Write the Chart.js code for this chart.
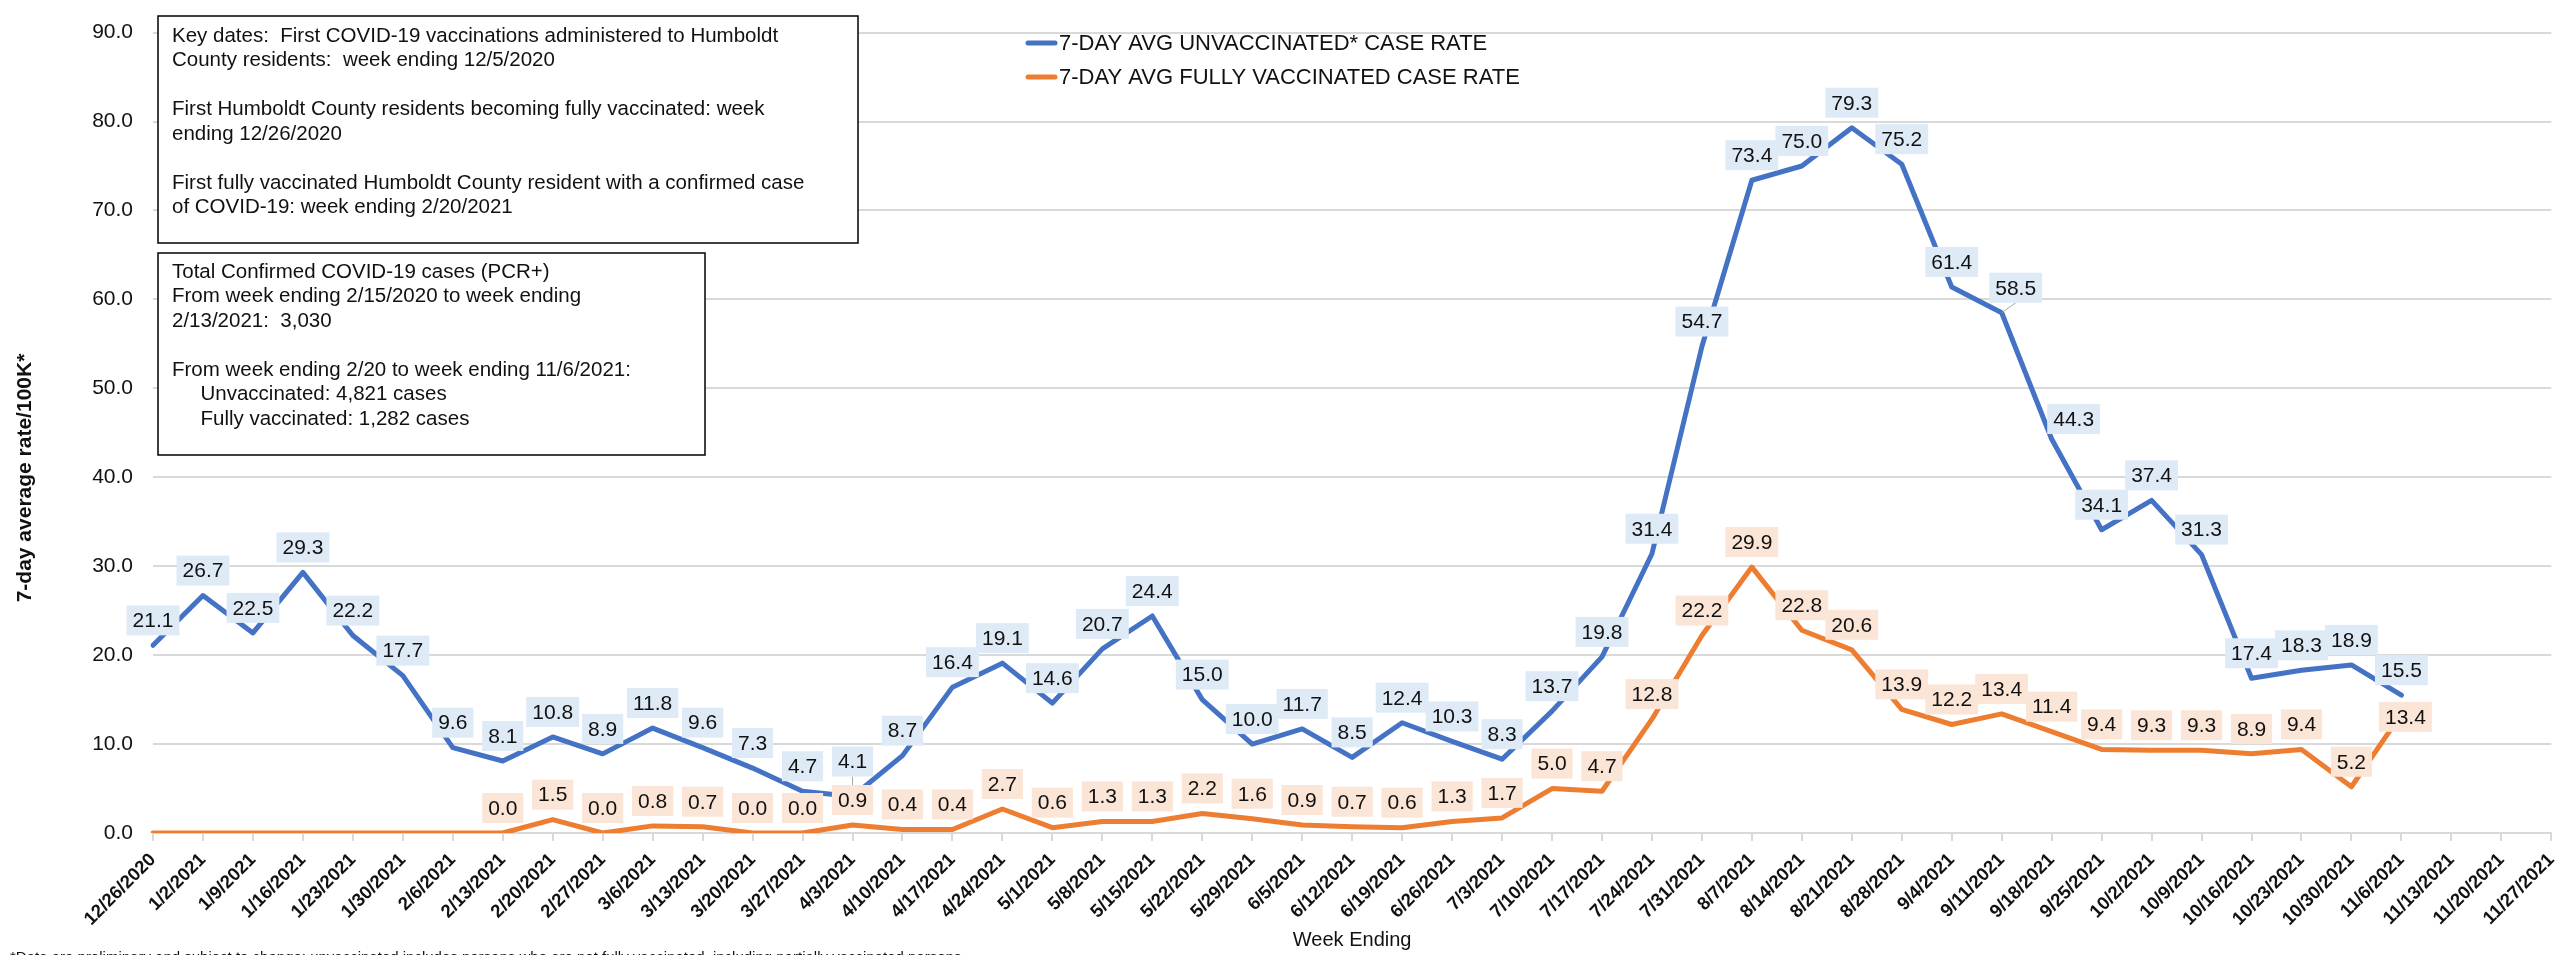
<!DOCTYPE html>
<html>
<head>
<meta charset="utf-8">
<script src="https://cdn.jsdelivr.net/npm/chart.js@4.4.1/dist/chart.umd.min.js"></script>
<style>
  body { margin: 0; background: #fff; }
  #wrap { width: 2575px; height: 955px; position: relative; }
</style>
</head>
<body>
<div id="wrap"><canvas id="myChart"></canvas></div>
<script>
const weeks = [
  '12/26/2020', '1/2/2021', '1/9/2021', '1/16/2021', '1/23/2021', '1/30/2021', '2/6/2021',
  '2/13/2021', '2/20/2021', '2/27/2021', '3/6/2021', '3/13/2021', '3/20/2021', '3/27/2021',
  '4/3/2021', '4/10/2021', '4/17/2021', '4/24/2021', '5/1/2021', '5/8/2021', '5/15/2021',
  '5/22/2021', '5/29/2021', '6/5/2021', '6/12/2021', '6/19/2021', '6/26/2021', '7/3/2021',
  '7/10/2021', '7/17/2021', '7/24/2021', '7/31/2021', '8/7/2021', '8/14/2021', '8/21/2021',
  '8/28/2021', '9/4/2021', '9/11/2021', '9/18/2021', '9/25/2021', '10/2/2021', '10/9/2021',
  '10/16/2021', '10/23/2021', '10/30/2021', '11/6/2021', '11/13/2021', '11/20/2021', '11/27/2021'
];

const unvaxRate = [
  21.1, 26.7, 22.5, 29.3, 22.2, 17.7, 9.6,
  8.1, 10.8, 8.9, 11.8, 9.6, 7.3, 4.7,
  4.1, 8.7, 16.4, 19.1, 14.6, 20.7, 24.4,
  15.0, 10.0, 11.7, 8.5, 12.4, 10.3, 8.3,
  13.7, 19.8, 31.4, 54.7, 73.4, 75.0, 79.3,
  75.2, 61.4, 58.5, 44.3, 34.1, 37.4, 31.3,
  17.4, 18.3, 18.9, 15.5, null, null, null
];

const vaxRate = [
  0, 0, 0, 0, 0, 0, 0,
  0.0, 1.5, 0.0, 0.8, 0.7, 0.0, 0.0,
  0.9, 0.4, 0.4, 2.7, 0.6, 1.3, 1.3,
  2.2, 1.6, 0.9, 0.7, 0.6, 1.3, 1.7,
  5.0, 4.7, 12.8, 22.2, 29.9, 22.8, 20.6,
  13.9, 12.2, 13.4, 11.4, 9.4, 9.3, 9.3,
  8.9, 9.4, 5.2, 13.4, null, null, null
];

// first week that carries a value label on the vaccinated line
const vaxLabelFrom = '2/13/2021';

const seriesNames = ['7-DAY AVG UNVACCINATED* CASE RATE', '7-DAY AVG FULLY VACCINATED CASE RATE'];

const keyDatesText = [
  'Key dates:  First COVID-19 vaccinations administered to Humboldt',
  'County residents:  week ending 12/5/2020',
  '',
  'First Humboldt County residents becoming fully vaccinated: week',
  'ending 12/26/2020',
  '',
  'First fully vaccinated Humboldt County resident with a confirmed case',
  'of COVID-19: week ending 2/20/2021'
];

const totalsText = [
  'Total Confirmed COVID-19 cases (PCR+)',
  'From week ending 2/15/2020 to week ending',
  '2/13/2021:  3,030',
  '',
  'From week ending 2/20 to week ending 11/6/2021:',
  '     Unvaccinated: 4,821 cases',
  '     Fully vaccinated: 1,282 cases'
];

const footnote = '*Data are preliminary and subject to change; unvaccinated includes persons who are not fully vaccinated, including partially vaccinated persons.';

const FONT = '"Liberation Sans", Arial, sans-serif';
const BLUE = '#4472C4';
const ORANGE = '#ED7D31';

// manual label moves, like the hand-placed labels in the original
const labelNudges = {
  0: { '4/3/2021': [0, -10, true], '9/11/2021': [14, 0, true], '9/18/2021': [22, 5, false] },
  1: { '11/6/2021': [4, 28, false] }
};

const overlay = {
  id: 'overlay',
  afterDatasetsDraw(chart) {
    const ctx = chart.ctx;
    ctx.save();
    ctx.font = '21px ' + FONT;
    ctx.textAlign = 'center';
    ctx.textBaseline = 'middle';
    const fills = ['#DEEBF7', '#FBE5D6'];
    const startIdx = [0, weeks.indexOf(vaxLabelFrom)];
    chart.data.datasets.forEach((ds, di) => {
      const meta = chart.getDatasetMeta(di);
      ds.data.forEach((v, i) => {
        if (v === null || i < startIdx[di]) return;
        const pt = meta.data[i];
        const txt = v.toFixed(1);
        const w = ctx.measureText(txt).width + 12;
        const h = 30;
        const nudge = (labelNudges[di] || {})[weeks[i]] || [0, 0, false];
        const cx = pt.x + nudge[0];
        const cy = pt.y - 25 + nudge[1];
        if (nudge[2]) {
          ctx.strokeStyle = '#a6a6a6';
          ctx.lineWidth = 1;
          ctx.beginPath();
          ctx.moveTo(pt.x, pt.y);
          ctx.lineTo(cx, cy + h / 2);
          ctx.stroke();
        }
        ctx.fillStyle = fills[di];
        ctx.fillRect(cx - w / 2, cy - h / 2, w, h);
        ctx.fillStyle = '#111';
        ctx.fillText(txt, cx, cy + 1);
      });
    });
    ctx.restore();
  },
  afterDraw(chart) {
    const ctx = chart.ctx;
    ctx.save();
    ctx.font = '20.5px ' + FONT;
    ctx.textBaseline = 'middle';
    ctx.textAlign = 'left';

    // text boxes
    const boxes = [
      { x: 158, y: 16, w: 700, h: 227, lines: keyDatesText, y0: 36 },
      { x: 158, y: 253, w: 547, h: 202, lines: totalsText, y0: 272 }
    ];
    boxes.forEach(b => {
      ctx.fillStyle = '#fff';
      ctx.fillRect(b.x, b.y, b.w, b.h);
      ctx.strokeStyle = '#000';
      ctx.lineWidth = 1.5;
      ctx.strokeRect(b.x, b.y, b.w, b.h);
      ctx.fillStyle = '#111';
      b.lines.forEach((ln, k) => ctx.fillText(ln, 172, b.y0 + k * 24.5));
    });

    // legend
    ctx.font = '22px ' + FONT;
    [BLUE, ORANGE].forEach((c, k) => {
      const y = 43 + k * 34;
      ctx.strokeStyle = c;
      ctx.lineWidth = 5;
      ctx.lineCap = 'round';
      ctx.beginPath();
      ctx.moveTo(1028, y);
      ctx.lineTo(1055, y);
      ctx.stroke();
      ctx.fillStyle = '#111';
      ctx.fillText(seriesNames[k], 1059, y + 1);
    });

    // y axis title
    ctx.save();
    ctx.translate(25, 478);
    ctx.rotate(-Math.PI / 2);
    ctx.textAlign = 'center';
    ctx.font = 'bold 21px ' + FONT;
    ctx.fillText('7-day average rate/100K*', 0, 0);
    ctx.restore();

    // footnote, cut by the bottom edge as in the original
    ctx.font = '15px ' + FONT;
    ctx.textBaseline = 'alphabetic';
    ctx.fillText(footnote, 10, 962);
    ctx.restore();
  }
};

const chart = document.getElementById('myChart');
new Chart(chart, {
  type: 'line',
  data: {
    labels: weeks,
    datasets: [{
      label: seriesNames[0],
      data: unvaxRate,
      borderColor: BLUE,
      backgroundColor: BLUE,
      borderWidth: 5,
      pointRadius: 0,
      tension: 0,
      fill: false,
      borderJoinStyle: 'round',
      borderCapStyle: 'round'
    }, {
      label: seriesNames[1],
      data: vaxRate,
      borderColor: ORANGE,
      backgroundColor: ORANGE,
      borderWidth: 5,
      pointRadius: 0,
      tension: 0,
      fill: false,
      borderJoinStyle: 'round',
      borderCapStyle: 'round'
    }]
  },
  options: {
    responsive: true,
    maintainAspectRatio: false,
    animation: false,
    layout: { padding: { left: 0, right: 23, top: 15, bottom: 0 } },
    plugins: {
      legend: { display: false },
      tooltip: { enabled: false }
    },
    scales: {
      x: {
        offset: false,
        grid: { drawOnChartArea: false, drawTicks: true, tickLength: 8, color: '#d9d9d9', lineWidth: 2 },
        border: { color: '#d9d9d9', width: 2 },
        ticks: {
          autoSkip: false,
          minRotation: 45,
          maxRotation: 45,
          padding: 8,
          color: '#111',
          font: { family: FONT, size: 18.5, weight: 'bold' }
        },
        title: {
          display: true,
          text: 'Week Ending',
          color: '#111',
          font: { family: FONT, size: 20 },
          padding: { top: 0, bottom: 3 }
        },
        afterFit(s) { s.height = 122; }
      },
      y: {
        min: 0,
        max: 90,
        grid: { color: '#d9d9d9', lineWidth: 2, drawTicks: false },
        border: { display: false },
        ticks: {
          stepSize: 10,
          padding: 20,
          color: '#111',
          font: { family: FONT, size: 21 },
          callback: v => v.toFixed(1)
        },
        afterFit(s) { s.width = 153; }
      }
    }
  },
  plugins: [overlay]
});
</script>
</body>
</html>
